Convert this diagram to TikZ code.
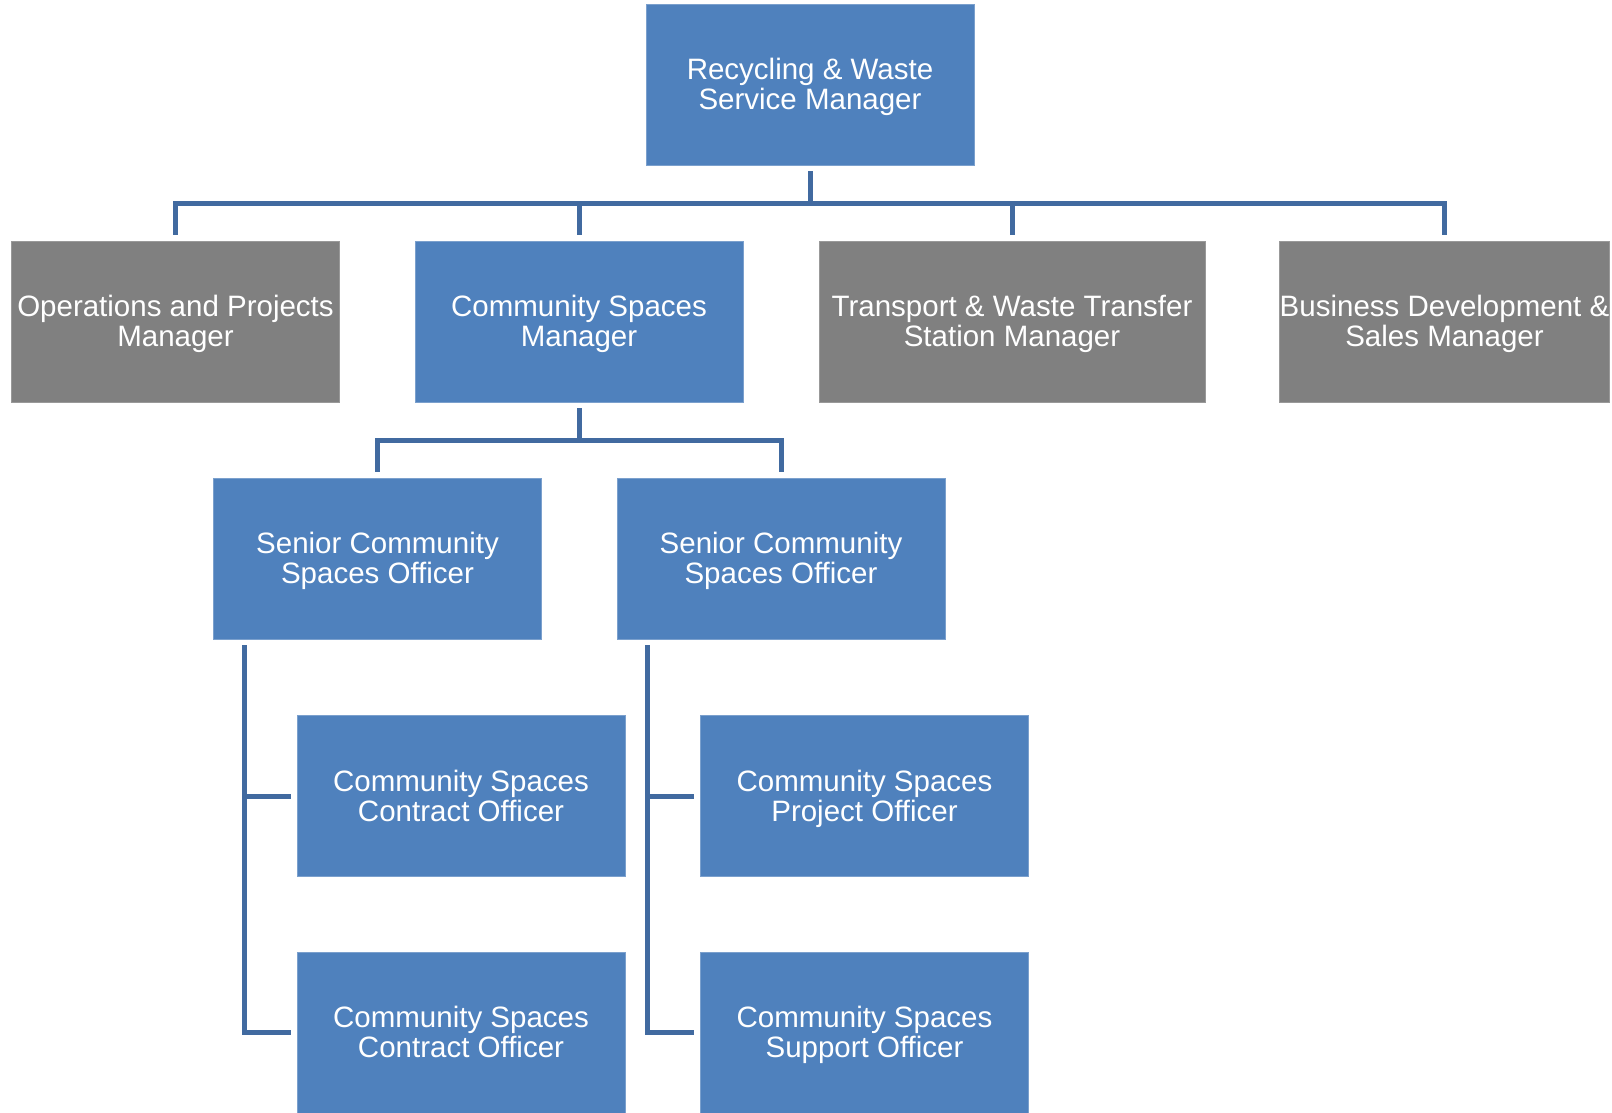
\documentclass[tikz,border=0pt]{standalone}
\usepackage{fontspec}
\setmainfont{Liberation Sans}
\definecolor{boxblue}{RGB}{79,129,189}
\definecolor{boxgray}{RGB}{128,128,128}
\definecolor{connblue}{RGB}{65,106,160}
\tikzset{
  orgbox/.style={rectangle, fill=boxblue, draw=boxblue!75!white, line width=0.8pt,
    minimum width=328pt, minimum height=161pt, inner sep=0pt, align=center,
    text=white, font=\fontsize{29.5}{30}\selectfont,
    execute at begin node={\rule{0pt}{57pt}},
    execute at end node={\rule[-7pt]{0pt}{7pt}}},
  graybox/.style={orgbox, fill=boxgray, draw=boxgray!80!white},
  conn/.style={draw=connblue, line width=5pt, line join=miter, line cap=butt}
}
\begin{document}
\begin{tikzpicture}[x=1pt,y=-1pt]
\useasboundingbox[fill=white] (0,0) rectangle (1612,1113);
\node[orgbox] (top) at (810,84.5) {Recycling \& Waste\\Service Manager};
\node[graybox] (ops) at (175.5,321.5) {Operations and Projects\\Manager};
\node[orgbox] (csm) at (579,321.5) {Community Spaces\\Manager};
\node[graybox, minimum width=386pt] (trans) at (1012,321.5) {Transport \& Waste Transfer\\Station Manager};
\node[graybox] (bus) at (1444.5,321.5) {Business Development \&\\Sales Manager};
\node[orgbox] (sen1) at (377.5,558.5) {Senior Community\\Spaces Officer};
\node[orgbox] (sen2) at (781,558.5) {Senior Community\\Spaces Officer};
\node[orgbox] (con1) at (461,796) {Community Spaces\\Contract Officer};
\node[orgbox] (proj) at (864.5,796) {Community Spaces\\Project Officer};
\node[orgbox] (con2) at (461,1032.5) {Community Spaces\\Contract Officer};
\node[orgbox] (sup) at (864.5,1032.5) {Community Spaces\\Support Officer};
% level 1 connectors
\draw[conn] ([yshift=-6pt]top.south) -- (top.south |- 0,203);
\draw[conn] ([yshift=6pt]ops.north) -- (ops.north |- 0,203) -- (bus.north |- 0,203) -- ([yshift=6pt]bus.north);
\draw[conn] ([yshift=6pt]csm.north) -- (csm.north |- 0,203);
\draw[conn] ([yshift=6pt]trans.north) -- (trans.north |- 0,203);
% level 2 connectors
\draw[conn] ([yshift=-6pt]csm.south) -- (csm.south |- 0,440);
\draw[conn] ([yshift=6pt]sen1.north) -- (sen1.north |- 0,440) -- (sen2.north |- 0,440) -- ([yshift=6pt]sen2.north);
% level 3 connectors
\draw[conn] ([xshift=31pt,yshift=-6pt]sen1.south west) -- ([xshift=31pt]sen1.south west |- con2.west) -- ([xshift=-6pt]con2.west);
\draw[conn] ([xshift=31pt]sen1.south west |- con1.west) -- ([xshift=-6pt]con1.west);
\draw[conn] ([xshift=31pt,yshift=-6pt]sen2.south west) -- ([xshift=31pt]sen2.south west |- sup.west) -- ([xshift=-6pt]sup.west);
\draw[conn] ([xshift=31pt]sen2.south west |- proj.west) -- ([xshift=-6pt]proj.west);
\end{tikzpicture}
\end{document}
